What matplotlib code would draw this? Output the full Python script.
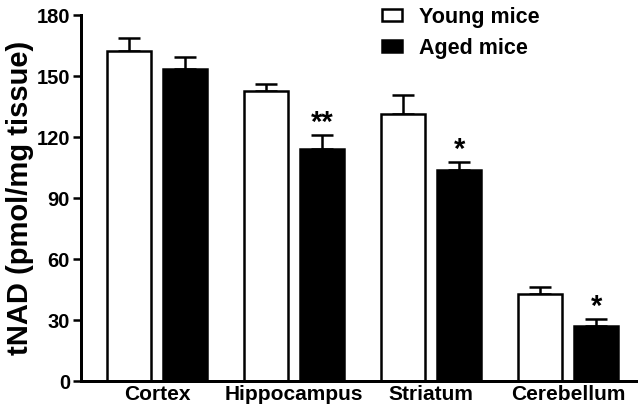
import numpy as np
import matplotlib.pyplot as plt

plt.rcParams['font.family'] = ['Liberation Sans', 'DejaVu Sans']
plt.rcParams['font.weight'] = 'bold'

# Datos
regiones = ['Cortex', 'Hippocampus', 'Striatum', 'Cerebellum']
jovenes = [162.5, 142.8, 131.3, 42.8]
jovenes_err = [6.0, 3.2, 9.4, 3.6]
viejos = [153.5, 114.3, 103.8, 27.1]
viejos_err = [6.0, 6.9, 3.8, 3.4]
signif = ['', '**', '*', '*']

x = np.arange(len(regiones))
w = 0.32
d = 0.205

fig = plt.figure(figsize=(6.43, 4.17), dpi=100)
ax = fig.add_axes([0.126, 0.0863, 0.863, 0.8777])

lw = 1.8
ax.bar(x - d, jovenes, w, color='white', edgecolor='black', lw=lw, label='Young mice', zorder=2)
ax.bar(x + d, viejos, w, color='black', edgecolor='black', lw=lw, label='Aged mice', zorder=2)
ax.errorbar(x - d, jovenes, yerr=[np.zeros(4), jovenes_err], fmt='none', ecolor='black',
            elinewidth=lw, capsize=8, capthick=lw, zorder=1)
ax.errorbar(x + d, viejos, yerr=[np.zeros(4), viejos_err], fmt='none', ecolor='black',
            elinewidth=lw, capsize=8, capthick=lw, zorder=1)

# Asteriscos de significancia
for i in range(len(regiones)):
    if signif[i]:
        ax.text(x[i] + d, viejos[i] + viejos_err[i] - 1, signif[i], ha='center', va='bottom',
                fontsize=21, fontweight='bold')

ax.set_xlim(-0.555, 3.496)
ax.set_ylim(0, 180)
ax.set_yticks(np.arange(0, 181, 30))
ax.set_xticks(x)
ax.set_xticklabels(regiones, fontsize=15, fontweight='bold')
ax.tick_params(axis='x', length=0, pad=3)
ax.tick_params(axis='y', length=6, width=lw, labelsize=14.5, pad=2)
for s in ['top', 'right']:
    ax.spines[s].set_visible(False)
for s in ['left', 'bottom']:
    ax.spines[s].set_linewidth(lw * 1.2)
ax.set_ylabel('tNAD (pmol/mg tissue)', fontsize=21, fontweight='bold', labelpad=2)

leg = ax.legend(loc='upper left', bbox_to_anchor=(0.508, 1.075), frameon=False,
                prop={'size': 15.5, 'weight': 'bold'}, handlelength=0.9, handleheight=0.5,
                handletextpad=0.8, labelspacing=0.45)

plt.savefig('out.png', dpi=100)
